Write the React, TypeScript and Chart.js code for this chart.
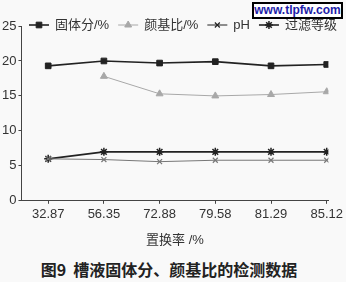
import React, { useEffect, useRef } from 'react';
import { Chart, registerables } from 'chart.js';
import { drawPoint } from 'chart.js/helpers';

Chart.register(...registerables);

const categories = ['32.87', '56.35', '72.88', '79.58', '81.29', '85.12'];
const solids = [19.3, 20.0, 19.7, 19.9, 19.3, 19.5];
const pigmentRatio = [null, 17.8, 15.3, 15.0, 15.2, 15.6];
const phValues = [6.0, 5.9, 5.6, 5.8, 5.8, 5.8];
const filterGrade = [6.0, 7.0, 7.0, 7.0, 7.0, 7.0];
const yTicks = [0, 5, 10, 15, 20, 25];
const seriesNames = ['固体分/%', '颜基比/%', 'pH', '过滤等级'];
const xTitle = '置换率 /%';
const caption = '图9  槽液固体分、颜基比的检测数据';
const watermark = 'www.tlpfw.com';

const FONT = "'Liberation Sans', Arial, 'Noto Sans CJK SC', sans-serif";

type Style = { color: string; line: number; point: string; radius: number; fill: string; bw: number; legendColor: string };
const styles: Style[] = [
  { color: '#222', line: 1.6, point: 'rect', radius: 4, fill: '#222', bw: 1, legendColor: '#222' },
  { color: '#a8a8a8', line: 1, point: 'triangle', radius: 4, fill: '#a8a8a8', bw: 1, legendColor: '#a8a8a8' },
  { color: '#777', line: 1, point: 'crossRot', radius: 3.5, fill: '#777', bw: 1.2, legendColor: '#222' },
  { color: '#222', line: 1.6, point: 'star', radius: 4, fill: '#222', bw: 1.5, legendColor: '#222' },
];

// Legend drawn inside the chart by a small plugin, so it can overlap the top of the plot like the original
const topLegend = {
  id: 'topLegend',
  afterDraw(chart: any) {
    const ctx = chart.ctx as CanvasRenderingContext2D;
    const y = 25;
    let x = 29;
    ctx.save();
    ctx.font = `13px ${FONT}`;
    ctx.textBaseline = 'middle';
    ctx.textAlign = 'left';
    chart.data.datasets.forEach((ds: any, i: number) => {
      const s = styles[i];
      ctx.strokeStyle = s.legendColor;
      ctx.lineWidth = s.line;
      ctx.beginPath();
      ctx.moveTo(x, y);
      ctx.lineTo(x + 20, y);
      ctx.stroke();
      ctx.fillStyle = s.legendColor;
      ctx.lineWidth = s.bw;
      drawPoint(ctx, { pointStyle: s.point, radius: s.radius, borderWidth: s.bw, rotation: 0 } as any, x + 10, y);
      x += 20 + 6;
      ctx.fillStyle = '#333';
      ctx.fillText(ds.label, x, y + 0.5);
      x += ctx.measureText(ds.label).width + 9;
    });
    ctx.restore();
  },
};

export default function App() {
  const ref = useRef<HTMLCanvasElement | null>(null);

  useEffect(() => {
    if (!ref.current) return;
    Chart.defaults.font.family = FONT;
    Chart.defaults.font.size = 13;
    Chart.defaults.color = '#333';
    const series = [solids, pigmentRatio, phValues, filterGrade];
    const chart = new Chart(ref.current, {
      type: 'line',
      data: {
        datasets: series.map((vals, i) => ({
          label: seriesNames[i],
          data: vals.map((v, j) => ({ x: j, y: v })),
          borderColor: styles[i].color,
          backgroundColor: styles[i].fill,
          borderWidth: styles[i].line,
          pointStyle: styles[i].point as any,
          pointRadius: styles[i].radius,
          pointBorderWidth: styles[i].bw,
          pointBorderColor: styles[i].color,
          pointBackgroundColor: styles[i].fill,
          tension: 0,
          spanGaps: false,
        })),
      },
      options: {
        animation: false,
        responsive: false,
        layout: { padding: { top: 26, right: 2, left: 0, bottom: 0 } },
        plugins: {
          tooltip: { enabled: false },
          legend: { display: false },
        },
        scales: {
          x: {
            type: 'linear',
            min: -0.48,
            max: 5.03,
            grid: { drawOnChartArea: false, drawTicks: true, tickLength: 3, color: '#444' },
            border: { color: '#444', width: 1 },
            ticks: {
              stepSize: 1,
              includeBounds: false,
              padding: 3,
              color: '#333',
              autoSkip: false,
              maxRotation: 0,
              callback: (v: any) => categories[v as number] ?? '',
            },
            title: { display: true, text: xTitle, color: '#333', font: { size: 13, family: FONT }, padding: { top: 7, bottom: 4 } },
          },
          y: {
            min: 0,
            max: 25,
            afterBuildTicks: (scale: any) => {
              scale.ticks = yTicks.map((v) => ({ value: v }));
            },
            grid: { drawOnChartArea: false, drawTicks: true, tickLength: 3, color: '#444' },
            border: { color: '#444', width: 1 },
            ticks: { padding: 2, color: '#333' },
          },
        },
      },
      plugins: [topLegend],
    } as any);
    return () => chart.destroy();
  }, []);

  return (
    <div style={{ position: 'absolute', left: 0, top: 0, width: 346, height: 282, background: '#f9f9f9', overflow: 'hidden' }}>
      <canvas ref={ref} width={346} height={252} style={{ display: 'block', width: 346, height: 252 }} />
      <div
        style={{
          position: 'absolute',
          left: 252,
          top: 2,
          width: 87,
          height: 13,
          border: '2px solid #000',
          background: '#fff',
          color: '#1c1ca8',
          font: `bold 12px ${FONT}`,
          lineHeight: '13px',
          textAlign: 'center',
        }}
      >
        {watermark}
      </div>
      <div
        style={{
          position: 'absolute',
          left: 0,
          top: 257,
          width: 338,
          textAlign: 'center',
          font: `bold 16px 'Noto Sans CJK SC', ${FONT}`,
          color: '#222',
          whiteSpace: 'pre',
        }}
      >
        {caption}
      </div>
    </div>
  );
}
